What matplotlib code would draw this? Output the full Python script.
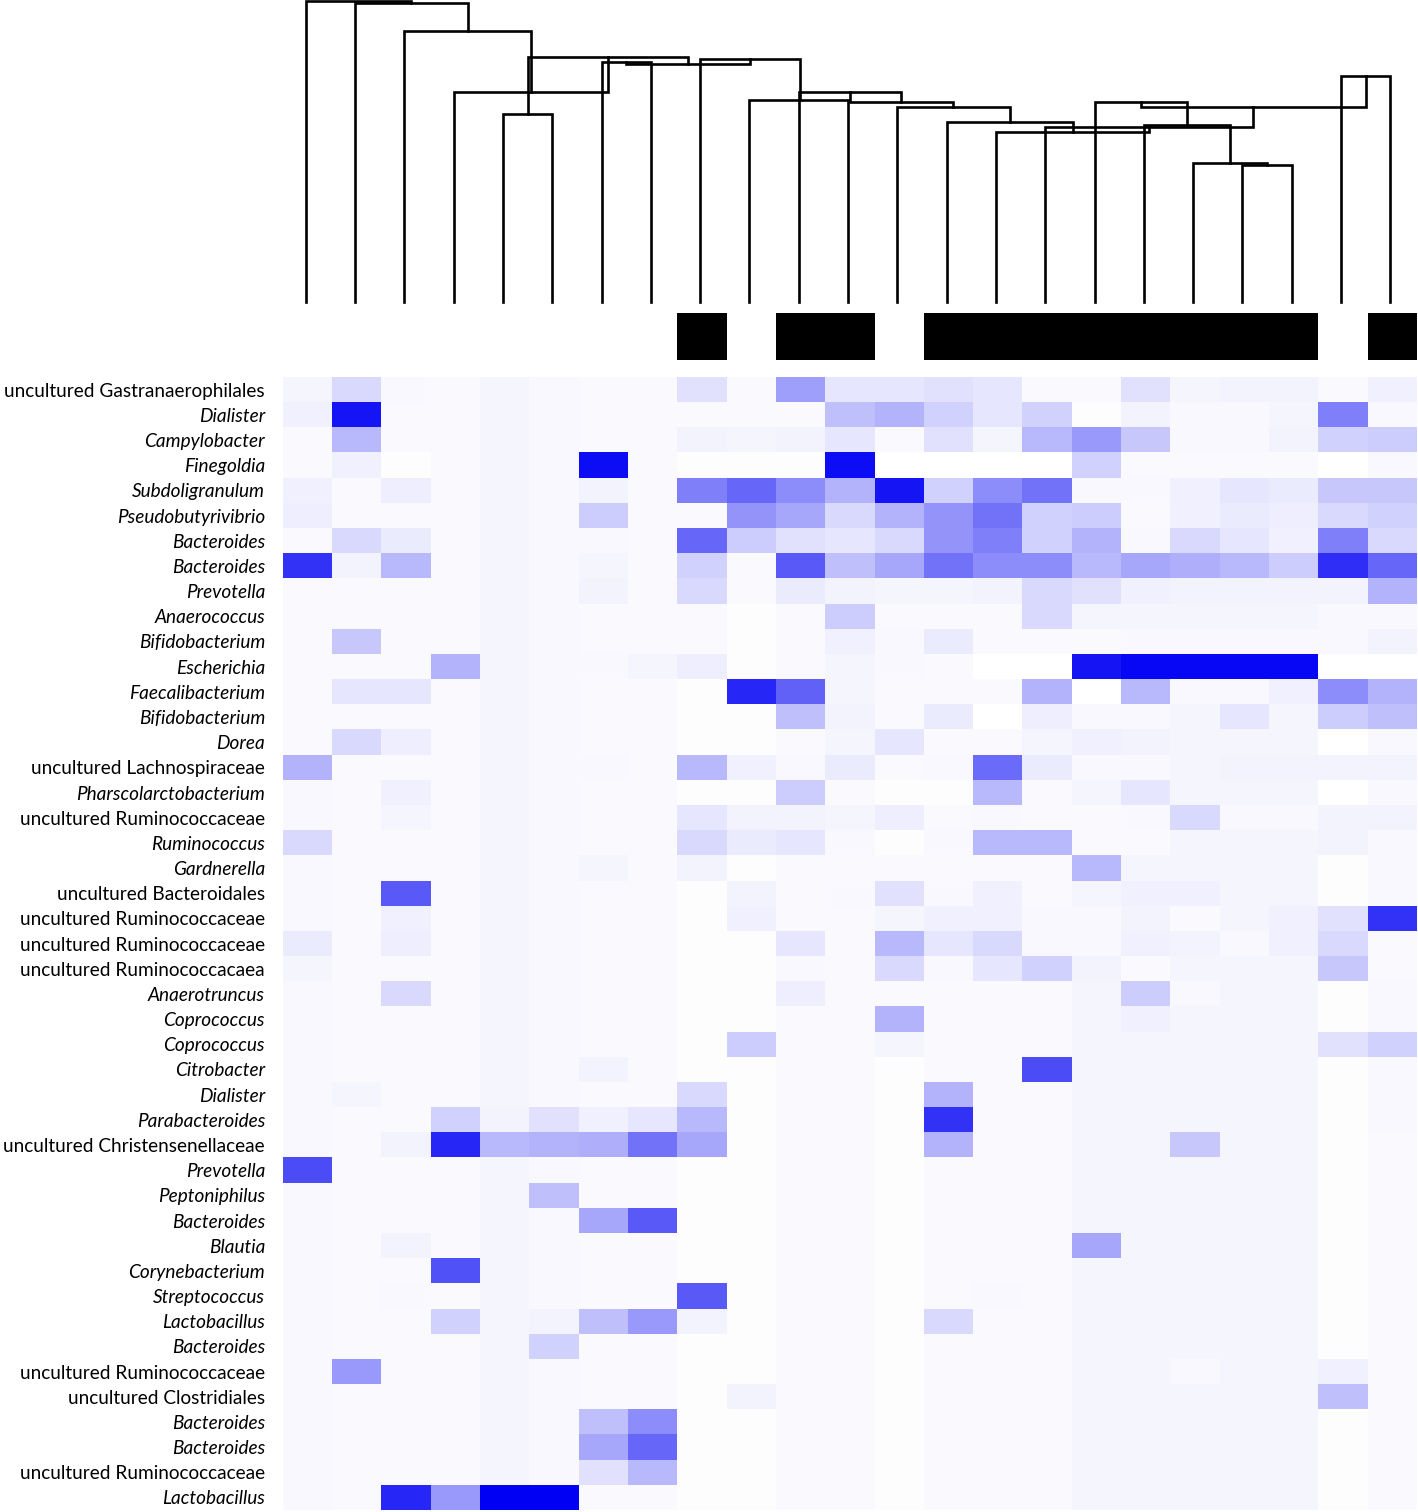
import matplotlib.pyplot as plt
import numpy as np
from matplotlib.colors import LinearSegmentedColormap, ListedColormap

plt.rcParams['font.family'] = ['Lato', 'DejaVu Sans']

# row labels (top to bottom)
taxa = [
    'uncultured Gastranaerophilales', 'Dialister', 'Campylobacter', 'Finegoldia',
    'Subdoligranulum', 'Pseudobutyrivibrio', 'Bacteroides', 'Bacteroides',
    'Prevotella', 'Anaerococcus', 'Bifidobacterium', 'Escherichia',
    'Faecalibacterium', 'Bifidobacterium', 'Dorea', 'uncultured Lachnospiraceae',
    'Pharscolarctobacterium', 'uncultured Ruminococcaceae', 'Ruminococcus', 'Gardnerella',
    'uncultured Bacteroidales', 'uncultured Ruminococcaceae', 'uncultured Ruminococcaceae',
    'uncultured Ruminococcacaea', 'Anaerotruncus', 'Coprococcus', 'Coprococcus',
    'Citrobacter', 'Dialister', 'Parabacteroides', 'uncultured Christensenellaceae',
    'Prevotella', 'Peptoniphilus', 'Bacteroides', 'Blautia', 'Corynebacterium',
    'Streptococcus', 'Lactobacillus', 'Bacteroides', 'uncultured Ruminococcaceae',
    'uncultured Clostridiales', 'Bacteroides', 'Bacteroides', 'uncultured Ruminococcaceae',
    'Lactobacillus',
]

# relative abundance per sample (23 samples, dendrogram order)
abundance = [
    [0.04, 0.15, 0.03, 0.02, 0.04, 0.03, 0.02, 0.02, 0.12, 0.02, 0.38, 0.10, 0.10, 0.12, 0.10, 0.02, 0.02, 0.12, 0.04, 0.05, 0.05, 0.02, 0.06],
    [0.06, 0.92, 0.02, 0.02, 0.04, 0.03, 0.02, 0.02, 0.02, 0.02, 0.02, 0.25, 0.30, 0.18, 0.10, 0.18, 0.01, 0.05, 0.03, 0.03, 0.04, 0.50, 0.03],
    [0.02, 0.28, 0.02, 0.02, 0.04, 0.03, 0.02, 0.02, 0.05, 0.04, 0.05, 0.10, 0.02, 0.12, 0.04, 0.28, 0.40, 0.22, 0.03, 0.03, 0.05, 0.18, 0.20],
    [0.02, 0.06, 0.01, 0.02, 0.04, 0.03, 0.95, 0.02, 0.01, 0.01, 0.01, 0.95, 0.00, 0.00, 0.00, 0.00, 0.18, 0.02, 0.02, 0.02, 0.02, 0.00, 0.03],
    [0.06, 0.02, 0.07, 0.02, 0.04, 0.03, 0.05, 0.02, 0.50, 0.60, 0.45, 0.30, 0.92, 0.18, 0.45, 0.55, 0.03, 0.03, 0.06, 0.10, 0.08, 0.22, 0.22],
    [0.07, 0.02, 0.02, 0.02, 0.04, 0.03, 0.20, 0.02, 0.02, 0.42, 0.35, 0.15, 0.30, 0.42, 0.55, 0.18, 0.20, 0.02, 0.06, 0.08, 0.07, 0.15, 0.18],
    [0.02, 0.15, 0.08, 0.02, 0.04, 0.03, 0.03, 0.02, 0.60, 0.20, 0.12, 0.10, 0.15, 0.42, 0.50, 0.18, 0.30, 0.03, 0.15, 0.10, 0.06, 0.50, 0.15],
    [0.80, 0.05, 0.28, 0.02, 0.04, 0.03, 0.04, 0.02, 0.18, 0.02, 0.65, 0.25, 0.35, 0.55, 0.45, 0.45, 0.28, 0.35, 0.32, 0.28, 0.20, 0.82, 0.60],
    [0.02, 0.02, 0.02, 0.02, 0.04, 0.03, 0.05, 0.02, 0.15, 0.02, 0.08, 0.05, 0.04, 0.04, 0.05, 0.15, 0.12, 0.06, 0.05, 0.05, 0.05, 0.05, 0.30],
    [0.02, 0.02, 0.02, 0.02, 0.04, 0.03, 0.02, 0.02, 0.02, 0.01, 0.02, 0.20, 0.02, 0.02, 0.02, 0.15, 0.04, 0.04, 0.04, 0.04, 0.04, 0.03, 0.03],
    [0.02, 0.22, 0.02, 0.02, 0.04, 0.03, 0.02, 0.02, 0.02, 0.01, 0.02, 0.06, 0.03, 0.08, 0.02, 0.02, 0.02, 0.03, 0.03, 0.03, 0.03, 0.03, 0.05],
    [0.02, 0.02, 0.02, 0.30, 0.04, 0.03, 0.03, 0.04, 0.07, 0.01, 0.02, 0.04, 0.03, 0.02, 0.00, 0.00, 0.92, 0.97, 0.97, 0.97, 0.97, 0.00, 0.00],
    [0.02, 0.10, 0.10, 0.02, 0.04, 0.03, 0.02, 0.02, 0.01, 0.85, 0.62, 0.04, 0.02, 0.02, 0.02, 0.30, 0.00, 0.28, 0.03, 0.03, 0.06, 0.45, 0.30],
    [0.02, 0.02, 0.02, 0.02, 0.04, 0.03, 0.02, 0.02, 0.01, 0.01, 0.25, 0.05, 0.02, 0.08, 0.00, 0.07, 0.03, 0.03, 0.04, 0.10, 0.04, 0.20, 0.25],
    [0.02, 0.15, 0.07, 0.02, 0.04, 0.03, 0.02, 0.02, 0.01, 0.01, 0.02, 0.04, 0.10, 0.02, 0.02, 0.04, 0.06, 0.05, 0.04, 0.04, 0.04, 0.00, 0.03],
    [0.30, 0.02, 0.02, 0.02, 0.04, 0.03, 0.03, 0.02, 0.28, 0.06, 0.03, 0.08, 0.02, 0.03, 0.58, 0.08, 0.03, 0.03, 0.04, 0.05, 0.05, 0.05, 0.05],
    [0.03, 0.02, 0.06, 0.02, 0.04, 0.03, 0.02, 0.02, 0.01, 0.01, 0.20, 0.02, 0.01, 0.01, 0.28, 0.02, 0.04, 0.10, 0.04, 0.04, 0.04, 0.00, 0.03],
    [0.03, 0.02, 0.04, 0.02, 0.04, 0.03, 0.02, 0.02, 0.10, 0.05, 0.05, 0.04, 0.07, 0.02, 0.03, 0.02, 0.02, 0.03, 0.15, 0.03, 0.03, 0.05, 0.05],
    [0.15, 0.02, 0.02, 0.02, 0.04, 0.03, 0.02, 0.02, 0.15, 0.08, 0.10, 0.03, 0.01, 0.03, 0.28, 0.28, 0.02, 0.02, 0.04, 0.04, 0.04, 0.05, 0.03],
    [0.03, 0.02, 0.02, 0.02, 0.04, 0.03, 0.04, 0.02, 0.05, 0.01, 0.02, 0.02, 0.02, 0.02, 0.02, 0.02, 0.28, 0.04, 0.04, 0.04, 0.04, 0.01, 0.03],
    [0.03, 0.02, 0.65, 0.02, 0.04, 0.03, 0.02, 0.02, 0.01, 0.05, 0.02, 0.03, 0.12, 0.03, 0.06, 0.02, 0.04, 0.06, 0.06, 0.04, 0.04, 0.01, 0.03],
    [0.03, 0.02, 0.06, 0.02, 0.04, 0.03, 0.02, 0.02, 0.01, 0.06, 0.02, 0.02, 0.04, 0.06, 0.06, 0.03, 0.03, 0.05, 0.02, 0.04, 0.06, 0.12, 0.80],
    [0.08, 0.02, 0.07, 0.02, 0.04, 0.03, 0.02, 0.02, 0.01, 0.01, 0.10, 0.02, 0.28, 0.10, 0.15, 0.03, 0.03, 0.06, 0.05, 0.03, 0.06, 0.15, 0.02],
    [0.04, 0.02, 0.02, 0.02, 0.04, 0.03, 0.02, 0.02, 0.01, 0.01, 0.03, 0.02, 0.15, 0.03, 0.10, 0.18, 0.05, 0.02, 0.04, 0.04, 0.04, 0.22, 0.02],
    [0.03, 0.02, 0.15, 0.02, 0.04, 0.03, 0.02, 0.02, 0.01, 0.01, 0.07, 0.02, 0.02, 0.02, 0.02, 0.02, 0.04, 0.20, 0.03, 0.04, 0.04, 0.01, 0.03],
    [0.03, 0.02, 0.02, 0.02, 0.04, 0.03, 0.02, 0.02, 0.01, 0.01, 0.02, 0.02, 0.30, 0.02, 0.02, 0.02, 0.04, 0.06, 0.04, 0.04, 0.04, 0.01, 0.03],
    [0.03, 0.02, 0.02, 0.02, 0.04, 0.03, 0.02, 0.02, 0.01, 0.20, 0.02, 0.02, 0.04, 0.02, 0.02, 0.02, 0.04, 0.04, 0.04, 0.04, 0.04, 0.12, 0.18],
    [0.03, 0.02, 0.02, 0.02, 0.04, 0.03, 0.05, 0.02, 0.01, 0.01, 0.02, 0.02, 0.01, 0.02, 0.02, 0.70, 0.04, 0.04, 0.04, 0.04, 0.04, 0.01, 0.03],
    [0.03, 0.04, 0.02, 0.02, 0.04, 0.03, 0.02, 0.02, 0.15, 0.01, 0.02, 0.02, 0.01, 0.30, 0.02, 0.02, 0.04, 0.04, 0.04, 0.04, 0.04, 0.01, 0.03],
    [0.03, 0.02, 0.02, 0.18, 0.05, 0.12, 0.06, 0.10, 0.28, 0.01, 0.02, 0.02, 0.01, 0.80, 0.02, 0.02, 0.04, 0.04, 0.04, 0.04, 0.04, 0.01, 0.03],
    [0.03, 0.02, 0.05, 0.85, 0.28, 0.30, 0.32, 0.55, 0.35, 0.01, 0.02, 0.02, 0.01, 0.30, 0.02, 0.02, 0.04, 0.04, 0.22, 0.04, 0.04, 0.01, 0.02],
    [0.70, 0.02, 0.02, 0.02, 0.04, 0.03, 0.02, 0.02, 0.01, 0.01, 0.02, 0.02, 0.01, 0.02, 0.02, 0.02, 0.04, 0.04, 0.04, 0.04, 0.04, 0.01, 0.02],
    [0.03, 0.02, 0.02, 0.02, 0.04, 0.25, 0.02, 0.02, 0.01, 0.01, 0.02, 0.02, 0.01, 0.02, 0.02, 0.02, 0.04, 0.04, 0.04, 0.04, 0.04, 0.01, 0.02],
    [0.03, 0.02, 0.02, 0.02, 0.04, 0.03, 0.35, 0.65, 0.01, 0.01, 0.02, 0.02, 0.01, 0.02, 0.02, 0.02, 0.04, 0.04, 0.04, 0.04, 0.04, 0.01, 0.02],
    [0.03, 0.02, 0.05, 0.02, 0.04, 0.03, 0.02, 0.02, 0.01, 0.01, 0.02, 0.02, 0.01, 0.02, 0.02, 0.02, 0.35, 0.04, 0.04, 0.04, 0.04, 0.01, 0.02],
    [0.03, 0.02, 0.02, 0.68, 0.04, 0.03, 0.02, 0.02, 0.01, 0.01, 0.02, 0.02, 0.01, 0.02, 0.02, 0.02, 0.04, 0.04, 0.04, 0.04, 0.04, 0.01, 0.02],
    [0.03, 0.02, 0.03, 0.02, 0.04, 0.03, 0.02, 0.02, 0.65, 0.01, 0.02, 0.02, 0.01, 0.02, 0.03, 0.02, 0.04, 0.04, 0.04, 0.04, 0.04, 0.01, 0.02],
    [0.03, 0.02, 0.02, 0.18, 0.04, 0.05, 0.25, 0.40, 0.05, 0.01, 0.02, 0.02, 0.01, 0.15, 0.02, 0.02, 0.04, 0.04, 0.04, 0.04, 0.04, 0.01, 0.02],
    [0.03, 0.02, 0.02, 0.02, 0.04, 0.18, 0.02, 0.02, 0.01, 0.01, 0.02, 0.02, 0.01, 0.02, 0.02, 0.02, 0.04, 0.04, 0.04, 0.04, 0.04, 0.01, 0.02],
    [0.03, 0.40, 0.02, 0.02, 0.04, 0.03, 0.02, 0.02, 0.01, 0.01, 0.02, 0.02, 0.01, 0.02, 0.02, 0.02, 0.04, 0.04, 0.03, 0.04, 0.04, 0.06, 0.02],
    [0.03, 0.02, 0.02, 0.02, 0.04, 0.03, 0.02, 0.02, 0.01, 0.05, 0.02, 0.02, 0.01, 0.02, 0.02, 0.02, 0.04, 0.04, 0.04, 0.04, 0.04, 0.25, 0.02],
    [0.03, 0.02, 0.02, 0.02, 0.04, 0.03, 0.25, 0.45, 0.01, 0.01, 0.02, 0.02, 0.01, 0.02, 0.02, 0.02, 0.04, 0.04, 0.04, 0.04, 0.04, 0.01, 0.02],
    [0.03, 0.02, 0.02, 0.02, 0.04, 0.03, 0.35, 0.60, 0.01, 0.01, 0.02, 0.02, 0.01, 0.02, 0.02, 0.02, 0.04, 0.04, 0.04, 0.04, 0.04, 0.01, 0.02],
    [0.03, 0.02, 0.02, 0.02, 0.04, 0.03, 0.12, 0.28, 0.01, 0.01, 0.02, 0.02, 0.01, 0.02, 0.02, 0.02, 0.04, 0.04, 0.04, 0.04, 0.04, 0.01, 0.02],
    [0.03, 0.02, 0.85, 0.40, 1.00, 1.00, 0.02, 0.02, 0.01, 0.01, 0.02, 0.02, 0.01, 0.02, 0.02, 0.02, 0.04, 0.04, 0.04, 0.04, 0.04, 0.01, 0.02],
]

# sample group (1 = black bar)
groups = [0, 0, 0, 0, 0, 0, 0, 0, 1, 0, 1, 1, 0, 1, 1, 1, 1, 1, 1, 1, 1, 0, 1]

# dendrogram merges (leaves 0-22, new clusters numbered from 23)
merge_left = [4, 6, 19, 18, 17, 16, 21, 28, 15, 14, 13, 12, 11, 10, 9, 8, 24, 23, 3, 2, 1, 0]
merge_right = [5, 7, 20, 25, 26, 27, 22, 29, 30, 31, 32, 33, 34, 35, 36, 37, 38, 39, 40, 41, 42, 43]
merge_height = [188, 240, 137, 139, 177, 200, 226, 195, 175, 170, 180, 195, 200, 210, 202, 243,
                238, 245, 210, 271, 299, 301]

n = len(groups)
fig = plt.figure(figsize=(14.18, 15.12), dpi=100)

# dendrogram
ax_d = fig.add_axes([0.1982, 0.8003, 0.7997, 0.1997])
pos = [i + 0.5 for i in range(n)]
hgt = [0.0] * n
for a, b, h in zip(merge_left, merge_right, merge_height):
    xa, xb = pos[a], pos[b]
    ax_d.plot([xa, xa, xb, xb], [hgt[a], h, h, hgt[b]], color='black', lw=1.9,
              solid_joinstyle='miter', clip_on=False)
    pos.append((xa + xb) / 2)
    hgt.append(h)
ax_d.set_xlim(0, n)
ax_d.set_ylim(0, 302)
ax_d.axis('off')

# group bar
ax_g = fig.add_axes([0.1996, 0.7619, 0.7997, 0.0311])
ax_g.imshow([groups], cmap=ListedColormap(['white', 'black']), vmin=0, vmax=1,
            aspect='auto', interpolation='nearest', extent=(0, n, 0, 1))
ax_g.axis('off')

# heatmap
cmap = LinearSegmentedColormap.from_list('wb', ['#ffffff', '#0000f5'])
ax_h = fig.add_axes([0.1996, 0.0013, 0.7997, 0.7493])
ax_h.imshow(np.array(abundance), cmap=cmap, vmin=0, vmax=1, aspect='auto',
            interpolation='nearest', extent=(0, n, len(taxa), 0))
ax_h.set_yticks([i + 0.5 for i in range(len(taxa))])
ax_h.set_yticklabels(taxa, fontsize=13.7, va='center_baseline')
for lab in ax_h.get_yticklabels():
    if not lab.get_text().startswith('uncultured'):
        lab.set_style('italic')
ax_h.set_xticks([])
ax_h.tick_params(axis='y', length=0, pad=13)
for s in ax_h.spines.values():
    s.set_visible(False)

fig.savefig('out.png', dpi=100)
